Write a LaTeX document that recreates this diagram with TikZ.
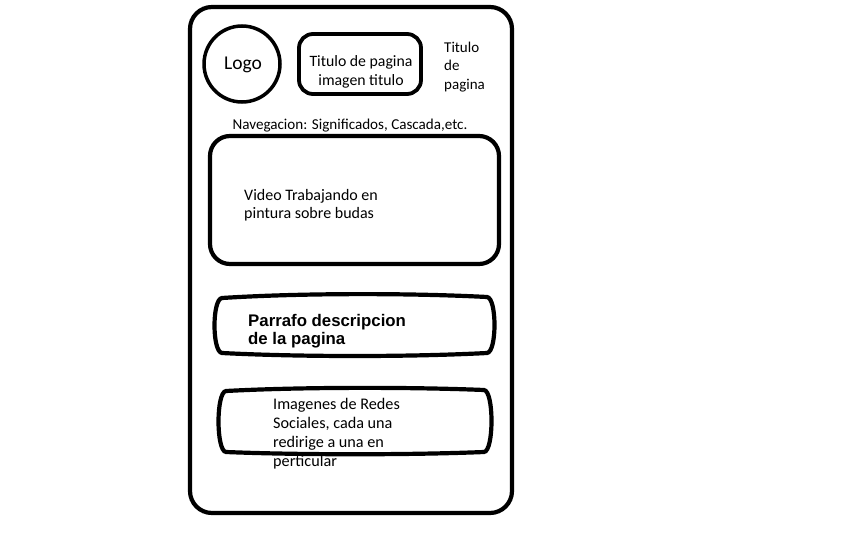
\documentclass[tikz,border=0pt]{standalone}
\usepackage{fontspec}
\setmainfont{Carlito}
\newfontfamily\arialb{Liberation Sans}
\begin{document}
\begin{tikzpicture}[x=1pt,y=-1pt,
  frame/.style={draw=black,line width=4.2pt},
  thinframe/.style={draw=black,line width=3.8pt},
  txt/.style={inner sep=0pt,font=\fontsize{16}{19}\selectfont,align=left,text=black},
]
\useasboundingbox[fill=white] (0,0) rectangle (864,540);
\draw[frame,rounded corners=22] (190,7) rectangle (512,513);
\node[draw=black,line width=3.5pt,circle,minimum size=76pt,inner sep=0pt] (logo) at (242,64) {};
\node[txt,font=\fontsize{19.5}{20}\selectfont] (logot) at (243,65) {Logo};
\draw[thinframe,rounded corners=14] (299,34) rectangle (421,94);
\node[txt,align=center,font=\fontsize{15.8}{19}\selectfont] (tit) at (361,72) {Titulo de pagina\\imagen titulo};
\node[txt,anchor=west,font=\fontsize{15}{18.5}\selectfont] (tit2) at (444,67) {Titulo\\de\\pagina};
\node[txt,font=\fontsize{15.1}{18}\selectfont] (nav) at (350,126) {Navegacion: Significados, Cascada,etc.};
\draw[frame,rounded corners=20] (210,136) rectangle (499,264);
\node[txt,anchor=west,font=\fontsize{16}{18.5}\selectfont] (vid) at (244,205) {Video Trabajando en\\pintura sobre budas};
\draw[frame] (222,298) .. controls (300,293) and (410,293) .. (487,297)
  .. controls (497,298) and (497,352) .. (487,353)
  .. controls (410,357) and (300,357) .. (222,353)
  .. controls (212,352) and (212,299) .. (222,298) -- cycle;
\node[txt,anchor=west,font=\arialb\bfseries\fontsize{16.8}{18}\selectfont] (par) at (248,331) {Parrafo descripcion\\de la pagina};
\draw[frame] (226,391) .. controls (300,387) and (410,387) .. (484,390)
  .. controls (494,391) and (494,451) .. (484,452)
  .. controls (410,455) and (300,455) .. (226,452)
  .. controls (216,451) and (216,392) .. (226,391) -- cycle;
\node[txt,anchor=west,font=\fontsize{16.2}{19}\selectfont] (red) at (273,433.5) {Imagenes de Redes\\Sociales, cada una\\redirige a una en\\perticular};
\end{tikzpicture}
\end{document}
